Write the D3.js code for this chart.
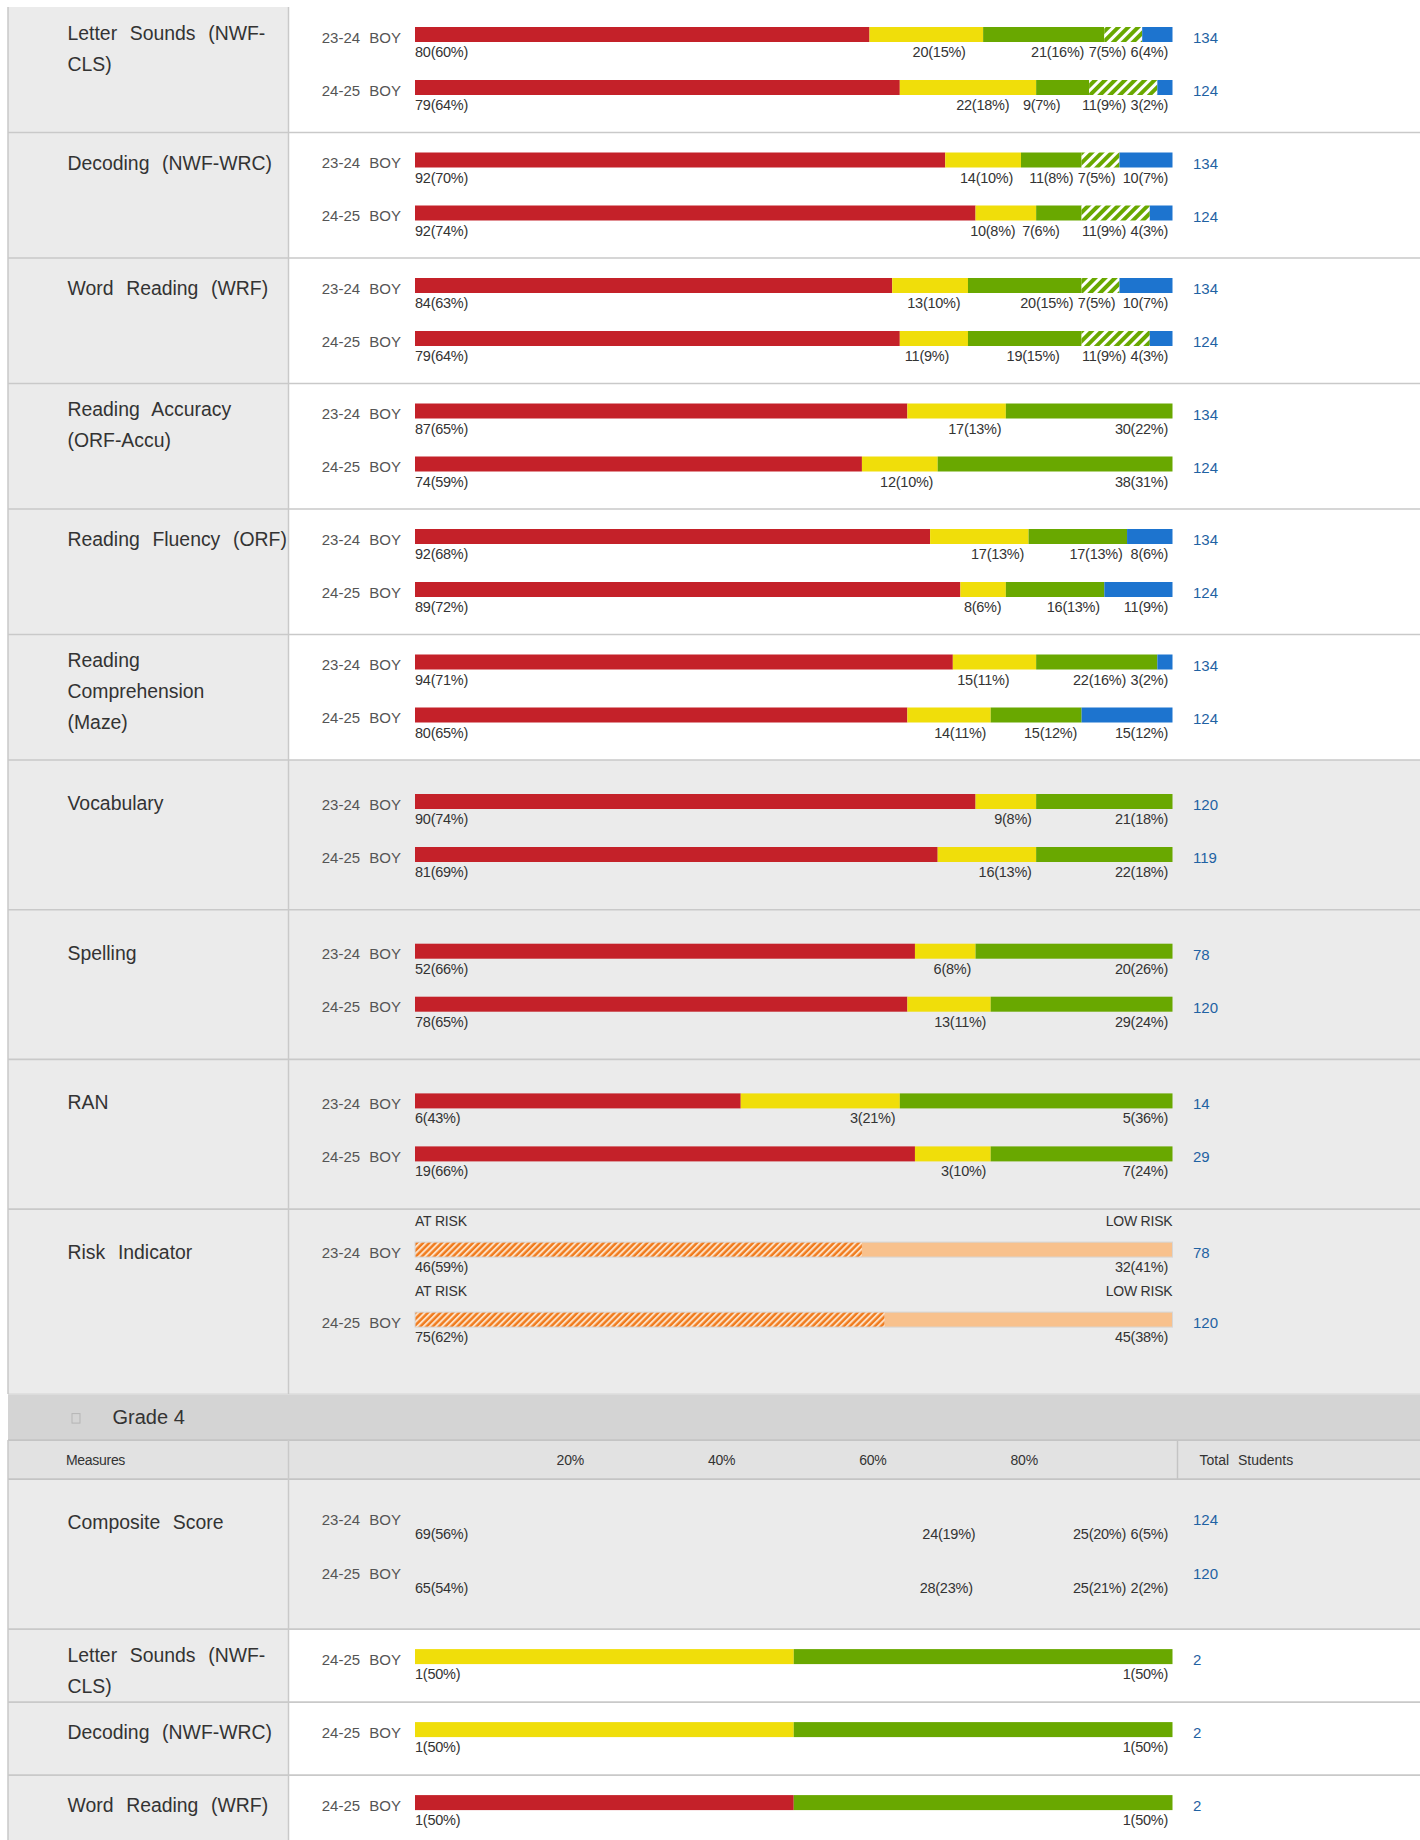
<!DOCTYPE html>
<html><head><meta charset="utf-8">
<script src="https://cdn.jsdelivr.net/npm/d3@7"></script>
<style>
body{margin:0;background:#fff;}
svg{display:block;font-family:"Liberation Sans",Arial,Helvetica,sans-serif;}
</style>
</head><body>
<svg id="chart" width="1420" height="1840"></svg>
<script>
// ---------------- DATA ----------------
const measureLabels = [
  ["Letter Sounds (NWF-", "CLS)"],
  ["Decoding (NWF-WRC)"],
  ["Word Reading (WRF)"],
  ["Reading Accuracy", "(ORF-Accu)"],
  ["Reading Fluency (ORF)"],
  ["Reading", "Comprehension", "(Maze)"],
  ["Vocabulary"],
  ["Spelling"],
  ["RAN"],
  ["Risk Indicator"],
  ["Composite Score"],
  ["Letter Sounds (NWF-", "CLS)"],
  ["Decoding (NWF-WRC)"],
  ["Word Reading (WRF)"]
];
const gradeTitle = "Grade 4";
const headerMeasures = "Measures";
const headerTotal = "Total Students";
const tickValues = [20, 40, 60, 80];
const tickLabels = ["20%", "40%", "60%", "80%"];
const riskLabels = ["AT RISK", "LOW RISK"];

const barMeasure = [0,0,1,1,2,2,3,3,4,4,5,5,6,6,7,7,8,8,9,9,10,10,11,12,13];
const barYear = ["23-24 BOY","24-25 BOY","23-24 BOY","24-25 BOY","23-24 BOY","24-25 BOY",
  "23-24 BOY","24-25 BOY","23-24 BOY","24-25 BOY","23-24 BOY","24-25 BOY",
  "23-24 BOY","24-25 BOY","23-24 BOY","24-25 BOY","23-24 BOY","24-25 BOY",
  "23-24 BOY","24-25 BOY","23-24 BOY","24-25 BOY","24-25 BOY","24-25 BOY","24-25 BOY"];
const barLevels = [
  ["R","Y","G","H","B"],["R","Y","G","H","B"],
  ["R","Y","G","H","B"],["R","Y","G","H","B"],
  ["R","Y","G","H","B"],["R","Y","G","H","B"],
  ["R","Y","G"],["R","Y","G"],
  ["R","Y","G","B"],["R","Y","G","B"],
  ["R","Y","G","B"],["R","Y","G","B"],
  ["R","Y","G"],["R","Y","G"],
  ["R","Y","G"],["R","Y","G"],
  ["R","Y","G"],["R","Y","G"],
  ["O","L"],["O","L"],
  ["R","Y","G","B"],["R","Y","G","B"],
  ["Y","G"],["Y","G"],["R","G"]
];
const barCounts = [
  [80,20,21,7,6],[79,22,9,11,3],
  [92,14,11,7,10],[92,10,7,11,4],
  [84,13,20,7,10],[79,11,19,11,4],
  [87,17,30],[74,12,38],
  [92,17,17,8],[89,8,16,11],
  [94,15,22,3],[80,14,15,15],
  [90,9,21],[81,16,22],
  [52,6,20],[78,13,29],
  [6,3,5],[19,3,7],
  [46,32],[75,45],
  [69,24,25,6],[65,28,25,2],
  [1,1],[1,1],[1,1]
];
const barPcts = [
  [60,15,16,5,4],[64,18,7,9,2],
  [70,10,8,5,7],[74,8,6,9,3],
  [63,10,15,5,7],[64,9,15,9,3],
  [65,13,22],[59,10,31],
  [68,13,13,6],[72,6,13,9],
  [71,11,16,2],[65,11,12,12],
  [74,8,18],[69,13,18],
  [66,8,26],[65,11,24],
  [43,21,36],[66,10,24],
  [59,41],[62,38],
  [56,19,20,5],[54,23,21,2],
  [50,50],[50,50],[50,50]
];
const barTotals = [134,124,134,124,134,124,134,124,134,124,134,124,120,119,78,120,14,29,78,120,124,120,2,2,2];

// ---------------- LAYOUT ----------------
const W = 1420, H = 1840;
const rowKind = ["std","std","std","std","std","std","tall","tall","tall","risk","comp","single","single","single"];
const kindHeight = {std:125.5, tall:149.7, risk:185, comp:150, single:73};
const barOffsets = {std:[20,73], tall:[34,87], risk:[33,103], comp:[30,84], single:[20]};
const colLeft = 8, colDiv = 288.5, barX0 = 415, barX1 = 1172.5;
const bandH = 46, headH = 39;

const colors = {R:"#c42129", Y:"#f0de0a", G:"#69a800", B:"#1d74cf", L:"#f8c18d"};

const svg = d3.select("#chart");
const defs = svg.append("defs");
function hatch(id, base, stripe, period, sw){
  const p = defs.append("pattern").attr("id", id).attr("patternUnits","userSpaceOnUse")
    .attr("width", period).attr("height", period).attr("patternTransform","rotate(45)");
  p.append("rect").attr("width", period).attr("height", period).attr("fill", base);
  p.append("rect").attr("width", sw).attr("height", period).attr("fill", stripe);
}
hatch("hatchG", "#69a800", "#ffffff", 7, 3);
hatch("hatchO", "#f07a1c", "#fde0c4", 4.4, 2);
colors.H = "url(#hatchG)";
colors.O = "url(#hatchO)";

// row tops
const rowTop = [];
let y = 7;
for (let i = 0; i < measureLabels.length; i++) {
  if (i === 10) { y += bandH + headH; }
  rowTop.push(y);
  y += kindHeight[rowKind[i]];
}
const bandTop = rowTop[9] + kindHeight.risk;
const headTop = bandTop + bandH;

const x = d3.scaleLinear().domain([0, 100]).range([barX0, barX1]);
const xTick = d3.scaleLinear().domain([0, 100]).range([barX0 + 4, barX1 + 3]);

const gBg = svg.append("g"), gLines = svg.append("g"), gBars = svg.append("g"), gText = svg.append("g");

// backgrounds
measureLabels.forEach((m, i) => {
  const k = rowKind[i], t = rowTop[i], h = kindHeight[k];
  const grayRight = (k === "tall" || k === "risk" || k === "comp");
  gBg.append("rect").attr("x", colDiv).attr("y", t).attr("width", W - colDiv).attr("height", h)
    .attr("fill", grayRight ? "#ebebeb" : "#ffffff");
  gBg.append("rect").attr("x", colLeft).attr("y", t).attr("width", colDiv - colLeft).attr("height", h)
    .attr("fill", "#ebebeb");
});
gBg.append("rect").attr("x", colLeft).attr("y", bandTop).attr("width", W - colLeft).attr("height", bandH).attr("fill", "#d4d4d4");
gBg.append("rect").attr("x", colLeft).attr("y", headTop).attr("width", W - colLeft).attr("height", headH).attr("fill", "#e2e2e2");

// lines
const lineCol = "#c9c9c9";
measureLabels.forEach((m, i) => {
  const b = rowTop[i] + kindHeight[rowKind[i]];
  if (i !== 9 && i !== 13) gLines.append("line").attr("x1", colLeft).attr("x2", W).attr("y1", b).attr("y2", b)
    .attr("stroke", lineCol).attr("stroke-width", 1.6);
});
[bandTop, headTop, headTop + headH].forEach(v => {
  gLines.append("line").attr("x1", colLeft).attr("x2", W).attr("y1", v).attr("y2", v)
    .attr("stroke", v === bandTop ? "#dcdcdc" : "#c4c4c4").attr("stroke-width", 1.6);
});
[[7, bandTop], [headTop, H]].forEach(([a, b]) => {
  gLines.append("line").attr("x1", colLeft).attr("x2", colLeft).attr("y1", a).attr("y2", b).attr("stroke", lineCol).attr("stroke-width", 1.5);
  gLines.append("line").attr("x1", colDiv).attr("x2", colDiv).attr("y1", a).attr("y2", b).attr("stroke", lineCol).attr("stroke-width", 1.5);
});
gLines.append("line").attr("x1", 1177.5).attr("x2", 1177.5).attr("y1", headTop).attr("y2", headTop + headH)
  .attr("stroke", "#c4c4c4").attr("stroke-width", 1.5);

// measure labels
measureLabels.forEach((lines, i) => {
  const k = rowKind[i];
  let off;
  if (k === "tall" || k === "risk" || k === "comp") off = 50;
  else off = lines.length === 1 ? 37 : 32.5;
  const t = gText.append("text").attr("x", 67.5).attr("y", rowTop[i] + off)
    .attr("font-size", "19.4px").attr("fill", "#333").attr("word-spacing", "7.3px");
  lines.forEach((ln, j) => t.append("tspan").attr("x", 67.5).attr("dy", j === 0 ? 0 : 31).text(ln));
});

// grade band + header
gText.append("rect").attr("x", 72).attr("y", bandTop + 19.5).attr("width", 8).attr("height", 9.5)
  .attr("fill", "none").attr("stroke", "#b5b5b5").attr("stroke-width", 1);
gText.append("text").attr("x", 112.5).attr("y", bandTop + 30).attr("font-size", "20px").attr("fill", "#333").text(gradeTitle);
gText.append("text").attr("x", 66).attr("y", headTop + 25).attr("font-size", "14px").attr("fill", "#333")
  .attr("letter-spacing", "-0.3px").text(headerMeasures);
gText.append("text").attr("x", 1199.5).attr("y", headTop + 25).attr("font-size", "14px").attr("fill", "#333")
  .attr("word-spacing", "5px").text(headerTotal);
gText.selectAll("text.tick").data(tickValues).join("text").attr("class", "tick")
  .attr("x", d => xTick(d)).attr("y", headTop + 25).attr("text-anchor", "middle")
  .attr("font-size", "14px").attr("letter-spacing", "-0.2px").attr("fill", "#333")
  .text((d, i) => tickLabels[i]);

// flex-like label layout
function flexSizes(basis, mins, total) {
  const n = basis.length, size = basis.slice(), frozen = new Array(n).fill(false);
  for (let it = 0; it < 12; it++) {
    let changed = false;
    for (let i = 0; i < n; i++) if (!frozen[i] && size[i] < mins[i] - 0.01) { size[i] = mins[i]; frozen[i] = true; changed = true; }
    if (!changed) break;
    let used = 0, fb = 0;
    for (let i = 0; i < n; i++) { if (frozen[i]) used += size[i]; else fb += basis[i]; }
    const avail = total - used;
    for (let i = 0; i < n; i++) if (!frozen[i]) size[i] = fb > 0 ? basis[i] * avail / fb : 0;
  }
  return size;
}

const barH = 15, pad = 4.5;
barMeasure.forEach((mi, bi) => {
  const k = rowKind[mi];
  const idxInRow = barMeasure.slice(0, bi).filter(v => v === mi).length;
  const top = rowTop[mi] + barOffsets[k][idxInRow];
  const pcts = barPcts[bi], lv = barLevels[bi], cnt = barCounts[bi];
  let cum = 0;
  const segs = pcts.map((p, j) => { const s = {x0: cum, x1: cum + p, lv: lv[j], c: cnt[j], p: p}; cum += p; return s; });

  if (k !== "comp") {
    gBars.selectAll(null).data(segs).join("rect")
      .attr("x", d => x(d.x0)).attr("y", top)
      .attr("width", d => x(d.x1) - x(d.x0)).attr("height", barH)
      .attr("fill", d => colors[d.lv]);
    if (k === "risk") {
      gBars.append("rect").attr("x", x(0)).attr("y", top).attr("width", x(100) - x(0)).attr("height", barH)
        .attr("fill", "none").attr("stroke", "#d6d6d6").attr("stroke-width", 1);
      gText.append("text").attr("x", x(0)).attr("y", top - 16.5).attr("font-size", "14px").attr("fill", "#333")
        .attr("letter-spacing", "-0.2px").text(riskLabels[0]);
      gText.append("text").attr("x", x(100)).attr("y", top - 16.5).attr("text-anchor", "end").attr("font-size", "14px")
        .attr("fill", "#333").attr("letter-spacing", "-0.2px").text(riskLabels[1]);
    }
  }

  // year label
  gText.append("text").attr("x", 401).attr("y", top + barH + 0.5).attr("text-anchor", "end")
    .attr("font-size", "15px").attr("fill", "#555").attr("word-spacing", "5px").text(barYear[bi]);
  // total
  gText.append("text").attr("x", 1193).attr("y", top + barH + 1).attr("font-size", "15px").attr("fill", "#1f62a3")
    .text(barTotals[bi]);

  // value labels
  const labels = gText.selectAll(null).data(segs).join("text")
    .attr("y", top + barH + 15).attr("font-size", "14.5px").attr("fill", "#333").attr("letter-spacing", "-0.25px")
    .text(d => d.c + "(" + d.p + "%)");
  const widths = labels.nodes().map(n => n.getComputedTextLength());
  const basis = segs.map(d => x(d.x1) - x(d.x0));
  const mins = widths.map(w => w + pad);
  const sizes = flexSizes(basis, mins, x(100) - x(0));
  let acc = x(0);
  const ends = sizes.map(s => (acc += s));
  labels.attr("text-anchor", (d, j) => j === 0 ? "start" : "end")
    .attr("x", (d, j) => j === 0 ? x(0) : ends[j] - pad);
});
</script>
</body></html>
